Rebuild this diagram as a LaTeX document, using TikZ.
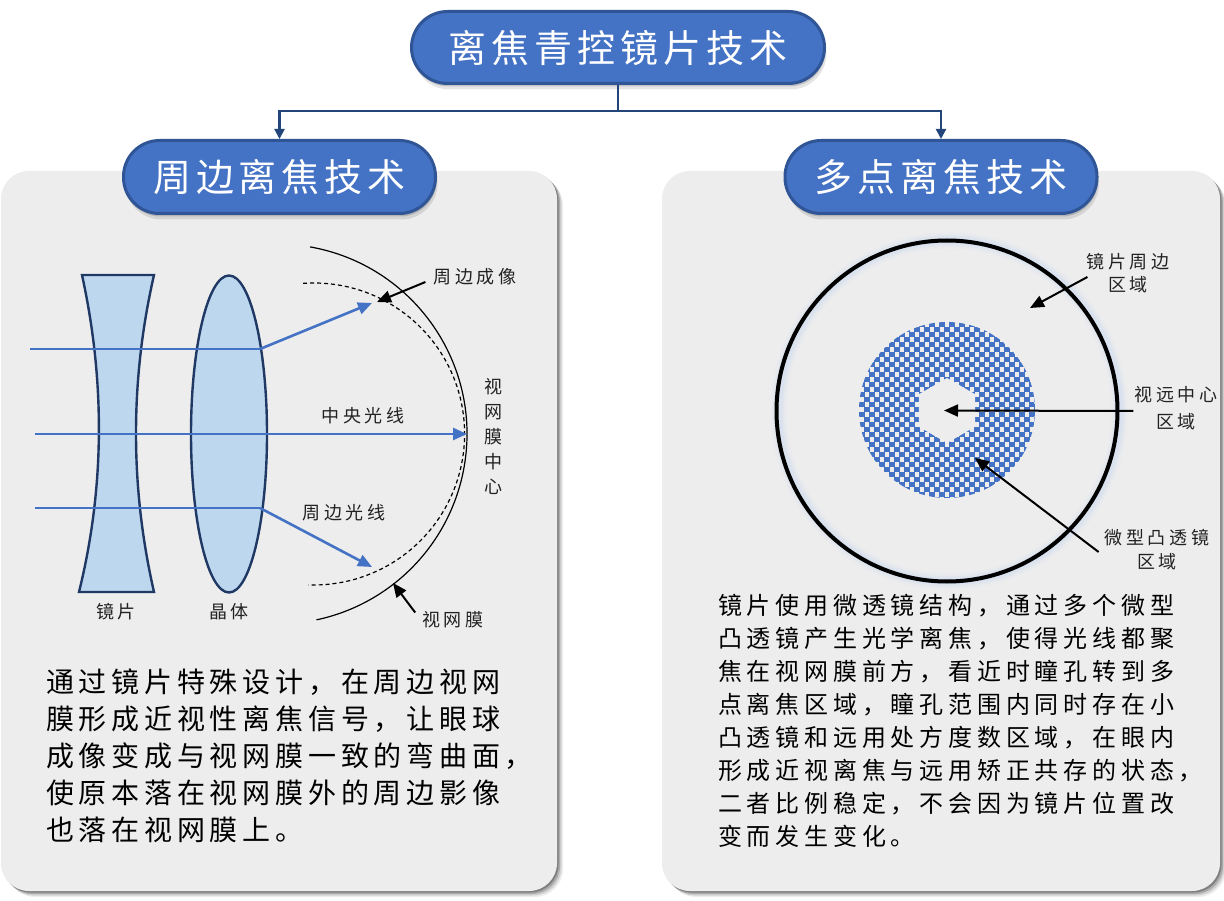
\documentclass[tikz,border=0pt]{standalone}
\usepackage{fontspec}
\setmainfont{Noto Sans CJK SC}
\usetikzlibrary{arrows.meta,shadows}

\definecolor{pillblue}{HTML}{4472C4}
\definecolor{pilledge}{HTML}{2F5597}
\definecolor{linknavy}{HTML}{24457A}
\definecolor{panelgray}{HTML}{EDEDED}
\definecolor{lensfill}{HTML}{BDD7EE}
\definecolor{lensedge}{HTML}{1F3864}
\definecolor{raycol}{HTML}{4472C4}
\definecolor{glowblue}{HTML}{C5D9F1}
\definecolor{inkgray}{HTML}{222222}

% extra space between characters, in percent of the font size
\newcommand\tracking[1]{\addfontfeature{LetterSpace=#1}}

\begin{document}
\begin{tikzpicture}[x=1pt,y=-1pt,
  pill/.style={draw=pilledge, line width=3pt, fill=pillblue, rounded corners=36pt,
    inner sep=0pt, text=white, font=\fontsize{38}{42}\selectfont\tracking{13},
    drop shadow={shadow xshift=1pt,shadow yshift=-3pt,opacity=0.15,fill=black},
    drop shadow={shadow xshift=2pt,shadow yshift=-6pt,opacity=0.10,fill=black}},
  panel/.style={fill=panelgray, rounded corners=28pt, inner sep=0pt,
    drop shadow={shadow xshift=6pt,shadow yshift=-6pt,opacity=0.07,fill=black},
    drop shadow={shadow xshift=4.5pt,shadow yshift=-4.5pt,opacity=0.12,fill=black},
    drop shadow={shadow xshift=3pt,shadow yshift=-3pt,opacity=0.18,fill=black},
    drop shadow={shadow xshift=1.5pt,shadow yshift=-1.5pt,opacity=0.25,fill=black}},
  link/.style={draw=linknavy, line width=2.2pt},
  linktip/.style={-{Triangle[length=10pt,width=10pt]}},
  lightray/.style={draw=raycol, line width=1.3pt},
  mainray/.style={draw=raycol, line width=2.6pt, -{Triangle[length=14pt,width=12pt]}},
  pointer/.style={draw=black, line width=2pt, -{Triangle[length=14pt,width=12pt]}},
  note/.style={font=\fontsize{18}{23}\selectfont\tracking{20}, text=inkgray, inner sep=0pt, align=center},
  para/.style={inner sep=0pt, align=left, anchor=north west, text=black},
]
\useasboundingbox (0,0) rectangle (1224,901);
\fill[white] (0,0) rectangle (1224,901);

% ---------- panels ----------
\node[panel, minimum width=556pt, minimum height=720pt] (panelL) at (279,531) {};
\node[panel, minimum width=558pt, minimum height=720pt] (panelR) at (941,531) {};

% ---------- headings ----------
\node[pill, minimum width=413pt, minimum height=72pt] (title) at (618,47.5) {离焦青控镜片技术};
\node[pill, minimum width=312pt, minimum height=73pt] (subL) at (279.5,177) {周边离焦技术};
\node[pill, minimum width=312pt, minimum height=73pt] (subR) at (941,177) {多点离焦技术};

\draw[link] (title.south) -- (title.south |- 0,111) coordinate (hub);
\draw[link,linktip] (hub) -| (subL.north);
\draw[link,linktip] (hub) -| (subR.north);

% ---------- left: lens, crystalline lens and retina ----------
\draw[lensedge, fill=lensfill, line width=2.4pt, line join=miter]
  (82,275) -- (154,275) .. controls (130,380) and (130,487) .. (154,592)
  -- (79,592) .. controls (105,487) and (105,380) .. (82,275) -- cycle;
\draw[lensedge, fill=lensfill, line width=2.4pt] (229,434) ellipse [x radius=38, y radius=158.5];

\node[note] (lblLens) at (116,612) {镜片};
\node[note] (lblCry) at (229,612) {晶体};

% retina and curved image surface
\coordinate (retc) at (277,434);
\coordinate (imgc) at (313.6,434);
\draw[black, line width=1.2pt] (retc) ++(-80:190) arc[start angle=-80, end angle=78, radius=190];
\draw[black, line width=1.2pt, dash pattern=on 4pt off 3pt] (imgc) ++(-94:151) arc[start angle=-94, end angle=92, radius=151];

% rays
\coordinate (rayTopIn) at (30,349);
\coordinate (rayTopLens) at (260,349);
\coordinate (rayTopEnd) at (372,303);
\coordinate (rayMidIn) at (35,434);
\coordinate (rayMidEnd) at (467,434);
\coordinate (rayLowIn) at (35,508);
\coordinate (rayLowLens) at (260,508);
\coordinate (rayLowEnd) at (372,567);
\draw[lightray] (rayTopIn) -- (rayTopLens);
\draw[mainray] (rayTopLens) -- (rayTopEnd);
\draw[mainray] (rayMidIn) -- (rayMidEnd);
\draw[lightray] (rayLowIn) -- (rayLowLens);
\draw[mainray] (rayLowLens) -- (rayLowEnd);

\node[note] (lblMidRay) at (363,416) {中央光线};
\node[note] (lblLowRay) at (344,513) {周边光线};
\node[note] (lblImg) at (475,277) {周边成像};
\node[note] (lblRet) at (453,620) {视网膜};
\node[note, font=\fontsize{18}{25}\selectfont] (lblCtr) at (493,437) {视\\网\\膜\\中\\心};

\coordinate (imgTip) at (377,302);
\coordinate (retTip) at (393,583);
\draw[pointer] ([xshift=-8pt,yshift=-5pt]lblImg.west) -- (imgTip);
\draw[pointer] ([xshift=-7pt,yshift=-1pt]lblRet.north west) -- (retTip);

% ---------- left text ----------
\node[para, font=\fontsize{28}{37}\selectfont\tracking{17}] (txtL) at (46,669)
  {通过镜片特殊设计，在周边视网\\膜形成近视性离焦信号，让眼球\\成像变成与视网膜一致的弯曲面，\\使原本落在视网膜外的周边影像\\也落在视网膜上。};

% ---------- right: multi-point defocus lens ----------
\coordinate (ringc) at (947,411);
\foreach \w/\o in {16/0.12, 11/0.18, 7/0.25}
  \draw[glowblue, line width=\w pt, opacity=\o] ([xshift=2pt]ringc) circle (170.5);
\draw[black, line width=4pt] (ringc) circle (170.5);

% micro-lens area: blue checker inside a disc
\coordinate (discc) at (947,410);
\begin{scope}
  \clip (discc) circle (88);
  \fill[panelgray] (discc) circle (88);
  \foreach \i in {0,...,35}{
    \foreach \j in {0,...,35}{
      \pgfmathtruncatemacro\cellodd{mod(\i+\j,2)}
      \ifnum\cellodd=0
        \fill[pillblue] (859+\i*5, 322+\j*5) rectangle ++(6.3,5.4);
      \fi
    }
  }
\end{scope}

\coordinate (hexc) at (947,410.5);
\fill[panelgray] (hexc) +(-90:32.5) -- +(-30:32.5) -- +(30:32.5) -- +(90:32.5)
  -- +(150:32.5) -- +(210:32.5) -- cycle;

\node[note] (lblEdge) at (1128,273) {镜片周边\\区域};
\node[note, font=\fontsize{18}{27}\selectfont\tracking{20}] (lblFar) at (1176,408) {视远中心\\区域};
\node[note, font=\fontsize{18}{24}\selectfont\tracking{20}] (lblMicro) at (1157,550) {微型凸透镜\\区域};

\coordinate (edgeTip) at (1030,308);
\coordinate (microTip) at (975,458);
\draw[pointer] ([xshift=1pt,yshift=-4pt]lblEdge.west) -- (edgeTip);
\draw[pointer] ([xshift=-1pt,yshift=-3pt]lblFar.west) -- ([xshift=-3pt]hexc);
\draw[pointer] ([xshift=-6pt,yshift=-2pt]lblMicro.west) -- (microTip);

% ---------- right text ----------
\node[para, font=\fontsize{24}{33}\selectfont\tracking{20}] (txtR) at (718,594)
  {镜片使用微透镜结构，通过多个微型\\凸透镜产生光学离焦，使得光线都聚\\焦在视网膜前方，看近时瞳孔转到多\\点离焦区域，瞳孔范围内同时存在小\\凸透镜和远用处方度数区域，在眼内\\形成近视离焦与远用矫正共存的状态，\\二者比例稳定，不会因为镜片位置改\\变而发生变化。};
\end{tikzpicture}
\end{document}
